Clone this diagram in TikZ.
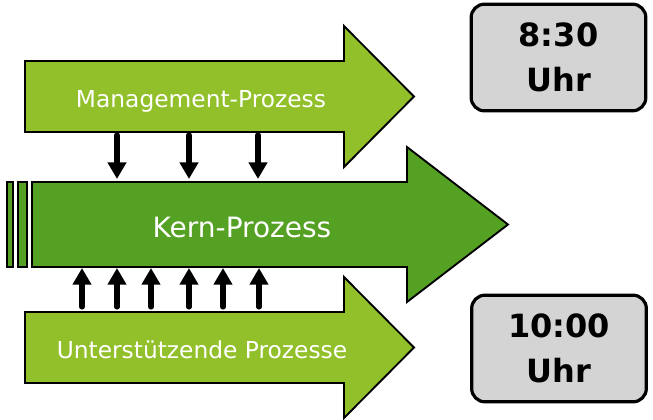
\documentclass[tikz,border=0pt]{standalone}
\usepackage{fontspec}
\setmainfont{DejaVu Sans}
\usetikzlibrary{arrows.meta}
\definecolor{hellgruen}{HTML}{92C02A}
\definecolor{kerngruen}{HTML}{55A124}
\definecolor{uhrgrau}{HTML}{D4D4D4}

\begin{document}
\begin{tikzpicture}[x=0.75pt,y=-0.75pt,
  prozess/.style={draw=black,line width=1.4pt,line join=miter},
  pfeil/.style={line width=3.8pt,line cap=round,-{Triangle[width=13.5pt,length=12.5pt]}},
  uhr/.style={draw=black,line width=2.4pt,fill=uhrgrau,rounded corners=10pt,
    minimum width=131pt,minimum height=80pt,align=center,
    font=\bfseries\fontsize{24}{34}\selectfont},
  beschriftung/.style={text=white,anchor=base,inner sep=0pt}]
\useasboundingbox (0,0) rectangle (653,419);

% Management-Prozess
\draw[prozess,fill=hellgruen] (25,61) -- (344,61) -- (344,26) -- (414,96.5)
  -- (344,167) -- (344,132) -- (25,132) -- cycle;
\node[beschriftung,font=\fontsize{17.5}{20}\selectfont] (management) at (201,107) {Management-Prozess};

% Kern-Prozess
\draw[prozess,fill=kerngruen] (7,182) rectangle (13,267);
\draw[prozess,fill=kerngruen] (18,182) rectangle (27,267);
\draw[prozess,fill=kerngruen] (32,182) -- (407,182) -- (407,147) -- (508,224.5)
  -- (407,302) -- (407,267) -- (32,267) -- cycle;
\node[beschriftung,font=\fontsize{21}{24}\selectfont] (kern) at (242,237) {Kern-Prozess};

% Unterstuetzende Prozesse
\draw[prozess,fill=hellgruen] (25,312) -- (344,312) -- (344,277) -- (414,347.5)
  -- (344,418) -- (344,383) -- (25,383) -- cycle;
\node[beschriftung,font=\fontsize{17.5}{20}\selectfont] (unterstuetzung) at (202,358) {Unterst\"utzende Prozesse};

% Pfeile zwischen den Prozessen
\foreach \x [count=\i] in {117,189,258} {
  \coordinate (mu\i) at (\x,135);
  \coordinate (ko\i) at (\x,179);
  \draw[pfeil] (mu\i) -- (ko\i);
}
\foreach \x [count=\i] in {82,117,151,189,223,259} {
  \coordinate (uo\i) at (\x,307);
  \coordinate (ku\i) at (\x,268);
  \draw[pfeil] (uo\i) -- (ku\i);
}

% Uhrzeiten
\node[uhr] (uhr830) at (558.5,57.5) {8:30\\Uhr};
\node[uhr] (uhr1000) at (559,348.5) {10:00\\Uhr};

\end{tikzpicture}
\end{document}
